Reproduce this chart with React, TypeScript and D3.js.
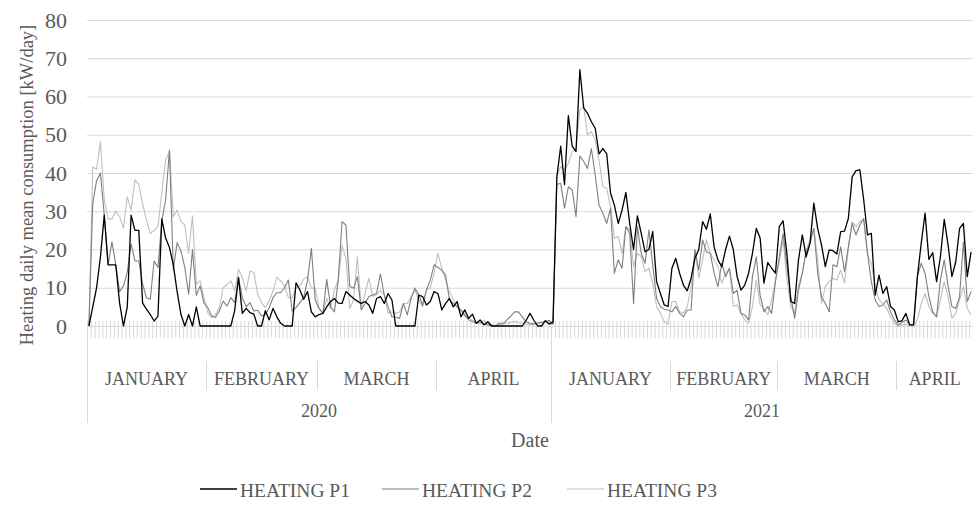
import React, { useEffect, useRef } from "react";
import * as d3 from "d3";

// categories: every day Jan-Apr 2020, and Jan 1 - Apr 20 2021
const days2020 = d3.timeDay.range(new Date(2020, 0, 1), new Date(2020, 4, 1));
const days2021 = d3.timeDay.range(new Date(2021, 0, 1), new Date(2021, 3, 21));
const monthNames = ["JANUARY", "FEBRUARY", "MARCH", "APRIL"];
const yearNames = ["2020", "2021"];
const yTicks = [0, 10, 20, 30, 40, 50, 60, 70, 80];

const heatingP1_2020 = [
  0, 5, 10, 18, 29, 16, 16, 16, 6, 0,
  5, 29, 25, 25, 6, 4.4, 3, 1.3, 2.6, 28,
  23, 20.5, 16, 9, 3, 0, 3, 0, 5, 0,
  0, 0, 0, 0, 0, 0, 0, 0, 4, 12.7,
  3.3, 4.6, 3.5, 3.1, 0, 0, 4, 1.6, 4.6, 2.4,
  0.7, 0, 0, 0, 11.3, 9.4, 7, 9, 3.7, 2.4,
  3, 3.3, 5, 6.4, 7.2, 6, 5.9, 9, 8.1, 7.2,
  6.5, 5.9, 6.4, 5.5, 3.3, 7.2, 7.7, 5.9, 8.5, 6.8,
  0, 0, 0, 0, 0, 0, 8.1, 7.7, 5.5, 6.4,
  9, 8.5, 4.2, 5.9, 7.2, 5, 6.4, 2.4, 4.2, 2,
  3.1, 0.7, 1.6, 0.3, 1.1, 0, 0, 0, 0, 0,
  0, 0, 0, 0, 1.5, 3.3, 1.5, 0, 0, 1.4,
  0.5,
];
const heatingP1_2021 = [
  1, 39, 47, 37, 55, 47, 45.6, 67, 57, 55.6,
  53.4, 51.7, 45, 46.4, 45, 34.7, 31.6, 26.8, 30.3, 34.9,
  26.8, 20, 28.8, 24.2, 19.4, 20, 24.7, 11.6, 8.5, 5.5,
  5.1, 15.1, 17.7, 13.8, 10.7, 9.2, 12.5, 17.7, 20, 27.3,
  25.3, 29.3, 20.7, 17.3, 15.5, 20, 23.5, 20, 12.9, 9.4,
  10.7, 13.8, 19, 25.5, 23, 11.2, 16.6, 15.1, 13.8, 26,
  27.5, 18.6, 6.4, 5.9, 17.3, 23.8, 18.1, 21.6, 32.1, 25.5,
  21.2, 15.5, 19.9, 19.7, 18.8, 24.7, 24.8, 28.1, 39, 40.6,
  40.8, 33, 23.8, 24.2, 8.1, 13.3, 8.5, 10.3, 5.1, 4.2,
  1.1, 1.4, 3.3, 0.3, 0.3, 12.9, 21.6, 29.5, 17.4, 19.2,
  11.6, 18.1, 27.9, 21.2, 12.9, 16.8, 25.5, 26.8, 12.9, 19.4,
];

const heatingP2_2020 = [
  0, 32, 38, 40, 29, 16, 22, 16, 9, 10.5,
  14, 21.5, 17, 17, 11, 7.4, 7, 17, 15.3, 27.5,
  33, 46, 14.8, 21.8, 19.6, 15.3, 8.3, 20, 8, 10.5,
  6, 4.8, 2.6, 2.2, 3.9, 6.5, 5.2, 7.4, 6.1, 12.6,
  7.4, 5, 6.1, 3.9, 4.1, 2.6, 3, 4.8, 7.4, 8.7,
  8.7, 10, 12, 3.9, 4.8, 6.1, 7.4, 12, 20.3, 6.8,
  4.6, 3.3, 12.2, 5, 3.7, 12, 27.3, 26.4, 10.3, 9.9,
  12.9, 4.2, 5.9, 7.7, 8.1, 8.5, 13.6, 8.1, 5, 2.4,
  2.3, 2, 5.9, 2.9, 7.2, 9.9, 8.1, 5.5, 9.4, 12,
  16, 15.3, 14.6, 13.3, 6.8, 5.9, 5, 4.2, 2.9, 1.6,
  1.1, 0.7, 1.1, 0.5, 0.3, 0, 0, 0.7, 0.7, 1.6,
  2.6, 3.7, 3.7, 2.4, 1.1, 0.7, 0.5, 0.7, 0.9, 1.1,
  1.5,
];
const heatingP2_2021 = [
  0.5, 37, 37.3, 30.8, 36.4, 35.6, 28.6, 44.4, 43, 41.2,
  46.4, 39.5, 31.6, 29.5, 26.8, 30.8, 13.8, 17.3, 15.1, 26,
  24.2, 5.9, 26, 19, 16.4, 25.1, 15.9, 7.2, 5.1, 4.4,
  4.2, 3.7, 5.1, 3.3, 2.4, 4.2, 4.2, 19.9, 14.6, 22.5,
  19.4, 19, 13.8, 10.3, 16.4, 12.9, 15.1, 8.5, 9.4, 3.3,
  2.9, 1.6, 12.9, 18.1, 8, 3.7, 5.1, 3.3, 11.6, 18.1,
  24.2, 15.5, 7.6, 2, 9.4, 13.8, 19.4, 21.6, 25.5, 13.8,
  7.6, 5.9, 3.7, 16, 15.5, 20.7, 14.2, 20.7, 26.8, 23.8,
  26.4, 28.1, 19, 11.6, 6.8, 5.1, 5.5, 6.8, 3.7, 1.6,
  0.3, 0.9, 1.6, 0.3, 0.3, 12.9, 16.4, 13.8, 7.7, 3.7,
  2.4, 12, 17.3, 10.5, 5.1, 4.6, 7.7, 22, 6.4, 9,
];

const heatingP3_2020 = [
  0, 41.6, 41, 48.2, 33, 28, 28, 30, 28.6, 25.6,
  33.8, 30.3, 38.2, 37, 32, 27.7, 24.2, 25, 26, 34.7,
  43.4, 45.6, 28.6, 30.3, 27.3, 26.4, 19, 28.8, 10.9, 11.8,
  7.4, 3.5, 2.2, 3, 4.8, 10, 10.9, 11.8, 9.2, 14.8,
  12.6, 9.2, 14.4, 14, 8.3, 6.1, 4.8, 6.5, 9.2, 12.8,
  11.8, 10.5, 7.4, 7.4, 10, 10.5, 12.2, 12.9, 9.9, 9.9,
  4.6, 3.3, 7.2, 4.6, 9.4, 12, 21, 17.7, 4.6, 6.8,
  18.1, 4.6, 8.5, 12.5, 7.7, 8.1, 9.4, 8.1, 3.3, 3.7,
  3.3, 3.7, 5.9, 5.9, 7.7, 9.4, 6.8, 5, 9.4, 10,
  14, 19, 15, 12, 9, 7, 5, 4, 2.5, 2,
  1.5, 1, 0.5, 1.5, 0.5, 0.3, 0, 0.3, 0.5, 0.8,
  1, 1.2, 1, 0.8, 0.5, 0.3, 0.5, 0.8, 1, 1.2,
  1,
];
const heatingP3_2021 = [
  0.5, 39, 41.7, 40.8, 42.5, 45.6, 46.4, 56.5, 57.3, 50,
  50.8, 48.6, 43.4, 36.4, 36, 31.2, 22.9, 23.4, 19, 26,
  25.1, 15.5, 19, 18.1, 14.2, 15.1, 11.2, 5.1, 3.3, 1.1,
  0.5, 6.4, 6.4, 3.7, 3.3, 5.1, 10.3, 19.9, 12.5, 17.3,
  22.5, 19, 17.3, 15.5, 11.2, 13.8, 15.1, 5.1, 5.5, 3.3,
  1.6, 0.7, 5.1, 12, 5.5, 4.6, 2.9, 6.8, 12, 16.8,
  22.5, 12, 5.1, 3.3, 10.7, 13.8, 19.9, 22.5, 25.5, 17.3,
  5.9, 10.3, 11.6, 12.5, 12, 14.6, 11.2, 20.3, 27.3, 26,
  27.3, 27.7, 18.6, 16.4, 10.3, 6.8, 5.9, 4.6, 2.4, 0.7,
  0, 0.3, 0.5, 0, 0, 1.6, 5.9, 8.5, 5.1, 3.3,
  2.4, 6.8, 11.6, 7.7, 2, 3.3, 6.8, 10.3, 4.6, 2.9,
];

const seriesNames = ["HEATING P1", "HEATING P2", "HEATING P3"];
const seriesColors = ["#000000", "#7f7f7f", "#bfbfbf"];

const FONT = "'Liberation Serif', 'Times New Roman', serif";
const TEXT = "#595959";
const GRID = "#d9d9d9";

export default function App() {
  const ref = useRef<SVGSVGElement>(null);

  useEffect(() => {
    document.body.style.margin = "0";
    const svg = d3.select(ref.current);
    svg.selectAll("*").remove();

    const days = [...days2020, ...days2021];
    const series = [
      [...heatingP1_2020, ...heatingP1_2021],
      [...heatingP2_2020, ...heatingP2_2021],
      [...heatingP3_2020, ...heatingP3_2021],
    ];

    const left = 87, right = 973, top = 20, bottom = 326;
    const x = d3.scaleBand<number>().domain(d3.range(days.length)).range([left, right]).padding(0);
    const bw = x.bandwidth();
    const y = d3.scaleLinear().domain([0, 80]).range([bottom, top]);

    // gridlines
    svg.append("g")
      .selectAll("line")
      .data(yTicks)
      .enter().append("line")
      .attr("x1", left).attr("x2", right)
      .attr("y1", d => y(d) + 0.5).attr("y2", d => y(d) + 0.5)
      .attr("stroke", GRID).attr("stroke-width", 1);

    // y axis labels
    const yAxis = svg.append("g")
      .attr("transform", `translate(${left},0)`)
      .call(d3.axisLeft(y).tickValues(yTicks).tickSize(0).tickPadding(20));
    yAxis.select(".domain").remove();
    yAxis.selectAll("text")
      .attr("font-family", FONT).attr("font-size", 22).attr("fill", TEXT);

    // small category ticks
    svg.append("g")
      .selectAll("line")
      .data(d3.range(days.length + 1))
      .enter().append("line")
      .attr("x1", i => left + i * bw + 0.5).attr("x2", i => left + i * bw + 0.5)
      .attr("y1", 321).attr("y2", 338)
      .attr("stroke", GRID).attr("stroke-width", 1);

    // month groups and year groups
    const monthGroups = d3.groups(days.map((d, i) => ({ d, i })), e => `${e.d.getFullYear()}-${e.d.getMonth()}`);
    const yearGroups = d3.groups(days.map((d, i) => ({ d, i })), e => e.d.getFullYear());

    monthGroups.forEach(([, items], k) => {
      const first = items[0].i, last = items[items.length - 1].i;
      const x0 = x(first)!, x1 = x(last)! + bw;
      const cx = (x0 + x1) / 2;
      svg.append("text")
        .text(monthNames[items[0].d.getMonth()])
        .attr("x", cx).attr("y", 385)
        .attr("text-anchor", "middle")
        .attr("font-family", FONT).attr("font-size", 18).attr("fill", TEXT);
      if (items[0].d.getMonth() !== 0) {
        svg.append("line")
          .attr("x1", Math.round(x0) + 0.5).attr("x2", Math.round(x0) + 0.5)
          .attr("y1", 361).attr("y2", 390)
          .attr("stroke", GRID).attr("stroke-width", 1);
      }
    });

    yearGroups.forEach(([yr, items], k) => {
      const first = items[0].i, last = items[items.length - 1].i;
      const x0 = x(first)!, x1 = x(last)! + bw;
      svg.append("text")
        .text(yearNames[k])
        .attr("x", (x0 + x1) / 2).attr("y", 417)
        .attr("text-anchor", "middle")
        .attr("font-family", FONT).attr("font-size", 18).attr("fill", TEXT);
      svg.append("line")
        .attr("x1", Math.round(x0) + 0.5).attr("x2", Math.round(x0) + 0.5)
        .attr("y1", bottom).attr("y2", 423)
        .attr("stroke", GRID).attr("stroke-width", 1);
    });

    // axis titles
    svg.append("text")
      .text("Date")
      .attr("x", (left + right) / 2).attr("y", 447)
      .attr("text-anchor", "middle")
      .attr("font-family", FONT).attr("font-size", 20).attr("fill", TEXT);

    svg.append("text")
      .text("Heating daily mean consumption [kW/day]")
      .attr("transform", `translate(33,${(top + bottom) / 2 + 12}) rotate(-90)`)
      .attr("text-anchor", "middle")
      .attr("font-family", FONT).attr("font-size", 18.5).attr("fill", TEXT);

    // series lines
    const line = d3.line<number>()
      .x((d, i) => x(i)! + bw / 2)
      .y(d => y(d));

    [2, 1, 0].forEach(s => {
      svg.append("path")
        .datum(series[s])
        .attr("d", line)
        .attr("fill", "none")
        .attr("stroke", seriesColors[s])
        .attr("stroke-width", s === 0 ? 1.3 : 1.1)
        .attr("stroke-linejoin", "round");
    });

    // legend
    const legendX = [200, 382, 567];
    seriesNames.forEach((name, s) => {
      svg.append("line")
        .attr("x1", legendX[s]).attr("x2", legendX[s] + 37)
        .attr("y1", 489).attr("y2", 489)
        .attr("stroke", seriesColors[s]).attr("stroke-width", s === 0 ? 1.3 : 1.1);
      svg.append("text")
        .text(name)
        .attr("x", legendX[s] + 40).attr("y", 496.5)
        .attr("font-family", FONT).attr("font-size", 19.5).attr("fill", TEXT);
    });
  }, []);

  return <svg ref={ref} width={973} height={509} style={{ display: "block" }}></svg>;
}
